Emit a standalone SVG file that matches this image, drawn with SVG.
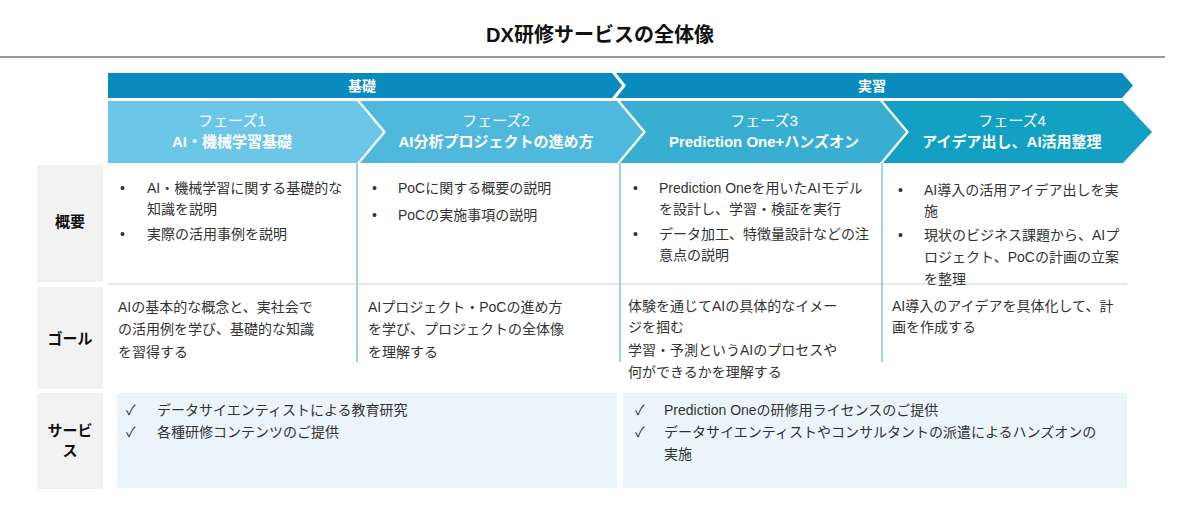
<svg xmlns="http://www.w3.org/2000/svg" width="1200" height="507" viewBox="0 0 1200 507">
<style>
text{font-family:"Liberation Sans","Noto Sans CJK JP",sans-serif;fill:#333;font-size:14px}
.t{font-size:20px;font-weight:bold;fill:#111}
.hw{fill:#fff;font-weight:bold;font-size:14px}
.pl{fill:#fff;font-size:15px}
.pb{fill:#fff;font-size:15px;font-weight:bold}
.lab{font-weight:bold;font-size:15px;fill:#111}
.div{stroke:#7cc6df;stroke-width:1.5}
.sep{stroke:#dde3e6;stroke-width:1.5}
</style>
<rect width="1200" height="507" fill="#fff"/>
<text class="t" x="600" y="42" text-anchor="middle">DX研修サービスの全体像</text>
<line x1="0" y1="57" x2="1165" y2="57" stroke="#333" stroke-width="1"/>
<g id="header">
<polygon points="108,73 612,73 622,85.5 612,98 108,98" fill="#0a8bbd"/>
<polygon points="616,73 1122,73 1133,85.5 1122,98 616,98 626,85.5" fill="#0a8bbd"/>
<text class="hw" x="362" y="91" text-anchor="middle">基礎</text>
<text class="hw" x="872" y="91" text-anchor="middle">実習</text>
</g>
<g id="phases">
<polygon points="108,101 357,101 383,132 357,163 108,163" fill="#6cc6e7"/>
<polygon points="360,101 617,101 643,132 617,163 360,163 386,132" fill="#4fb9dd"/>
<polygon points="620,101 880,101 906,132 880,163 620,163 646,132" fill="#38afd2"/>
<polygon points="883,101 1123,101 1152,132 1123,163 883,163 909,132" fill="#12a1c2"/>
<text class="pl" x="232" y="126" text-anchor="middle">フェーズ1</text>
<text class="pb" x="232" y="147" text-anchor="middle">AI・機械学習基礎</text>
<text class="pl" x="496" y="126" text-anchor="middle">フェーズ2</text>
<text class="pb" x="496" y="147" text-anchor="middle">AI分析プロジェクトの進め方</text>
<text class="pl" x="764" y="126" text-anchor="middle">フェーズ3</text>
<text class="pb" x="764" y="147" text-anchor="middle">Prediction One+ハンズオン</text>
<text class="pl" x="1012" y="126" text-anchor="middle">フェーズ4</text>
<text class="pb" x="1012" y="147" text-anchor="middle">アイデア出し、AI活用整理</text>
</g>
<g id="labels">
<rect x="37" y="165" width="66" height="117" fill="#f2f2f2"/>
<rect x="37" y="287" width="66" height="102" fill="#f2f2f2"/>
<rect x="37" y="393" width="66" height="96" fill="#f2f2f2"/>
<text class="lab" x="70" y="227" text-anchor="middle">概要</text>
<text class="lab" x="70" y="344" text-anchor="middle">ゴール</text>
<text class="lab" x="70" y="436" text-anchor="middle">サービ</text>
<text class="lab" x="70" y="456" text-anchor="middle">ス</text>
</g>
<g id="grid">
<line class="sep" x1="108" y1="284" x2="1127" y2="284"/>
<line class="div" x1="357" y1="163" x2="357" y2="362"/>
<line class="div" x1="620" y1="163" x2="620" y2="362"/>
<line class="div" x1="882" y1="163" x2="882" y2="362"/>
</g>
<g id="overview">
<text x="120" y="193">•</text><text x="147" y="193">AI・機械学習に関する基礎的な</text>
<text x="147" y="214">知識を説明</text>
<text x="120" y="239">•</text><text x="147" y="239">実際の活用事例を説明</text>
<text x="372" y="193">•</text><text x="398" y="193">PoCに関する概要の説明</text>
<text x="372" y="220">•</text><text x="398" y="220">PoCの実施事項の説明</text>
<text x="633" y="193">•</text><text x="659" y="193">Prediction Oneを用いたAIモデル</text>
<text x="659" y="214">を設計し、学習・検証を実行</text>
<text x="633" y="239">•</text><text x="659" y="239">データ加工、特徴量設計などの注</text>
<text x="659" y="260">意点の説明</text>
<text x="898" y="195">•</text><text x="924" y="195">AI導入の活用アイデア出しを実</text>
<text x="924" y="216">施</text>
<text x="898" y="240">•</text><text x="924" y="240">現状のビジネス課題から、AIプ</text>
<text x="924" y="262">ロジェクト、PoCの計画の立案</text>
<text x="924" y="284">を整理</text>
</g>
<g id="goal">
<text x="118" y="312">AIの基本的な概念と、実社会で</text>
<text x="118" y="334">の活用例を学び、基礎的な知識</text>
<text x="118" y="357">を習得する</text>
<text x="368" y="312">AIプロジェクト・PoCの進め方</text>
<text x="368" y="334">を学び、プロジェクトの全体像</text>
<text x="368" y="357">を理解する</text>
<text x="628" y="311">体験を通じてAIの具体的なイメー</text>
<text x="628" y="332">ジを掴む</text>
<text x="628" y="355">学習・予測というAIのプロセスや</text>
<text x="628" y="377">何ができるかを理解する</text>
<text x="892" y="311">AI導入のアイデアを具体化して、計</text>
<text x="892" y="332">画を作成する</text>
</g>
<g id="service">
<rect x="117" y="393" width="500" height="95" fill="#ebf4f8"/>
<rect x="623" y="393" width="504" height="95" fill="#ebf4f8"/>
<text x="126" y="415">✓</text><text x="157" y="415">データサイエンティストによる教育研究</text>
<text x="126" y="437">✓</text><text x="157" y="437">各種研修コンテンツのご提供</text>
<text x="635" y="415">✓</text><text x="664" y="415">Prediction Oneの研修用ライセンスのご提供</text>
<text x="635" y="437">✓</text><text x="664" y="437">データサイエンティストやコンサルタントの派遣によるハンズオンの</text>
<text x="664" y="459">実施</text>
</g>
</svg>
